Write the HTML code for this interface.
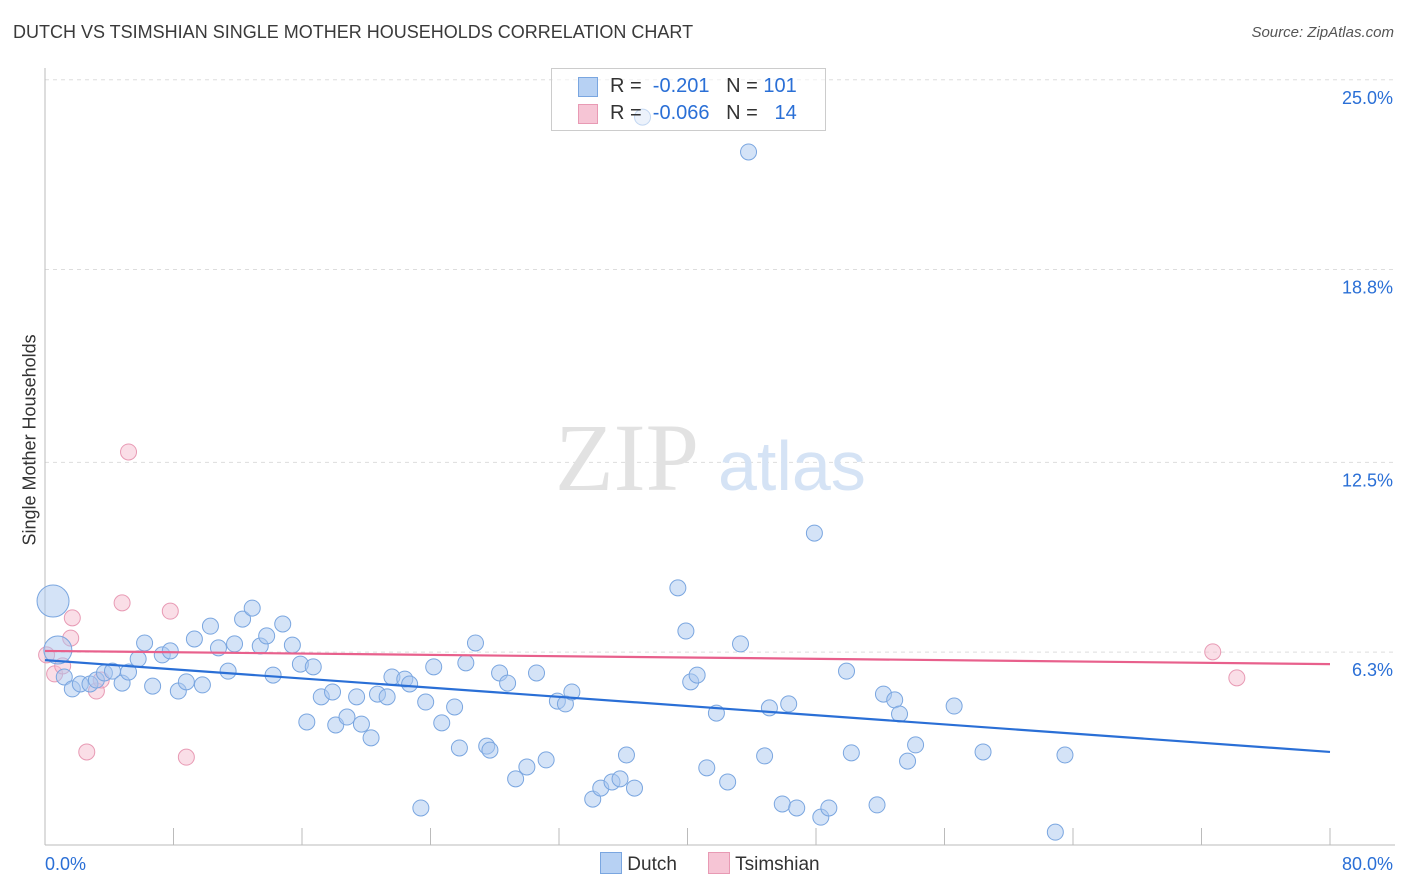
<!DOCTYPE html>
<html><head><meta charset="utf-8"><style>
body{margin:0;background:#fff;font-family:"Liberation Sans",sans-serif;}
#wrap{position:relative;width:1406px;height:892px;overflow:hidden;}
.t{position:absolute;white-space:nowrap;}
</style></head><body>
<div id="wrap">
<div class="t" style="left:13px;top:22px;font-size:18px;color:#3a3a3a;">DUTCH VS TSIMSHIAN SINGLE MOTHER HOUSEHOLDS CORRELATION CHART</div>
<div class="t" style="right:12px;top:24px;font-size:15px;color:#555;font-style:italic;">Source: ZipAtlas.com</div>
<div class="t" style="left:-60px;top:445px;transform:rotate(-90deg);font-size:18px;color:#333;width:180px;text-align:center;">Single Mother Households</div>
<svg id="plot" width="1406" height="892" style="position:absolute;left:0;top:0"></svg>
<div style="position:absolute;left:551px;top:68px;width:273px;height:61px;border:1px solid #ccc;background:rgba(255,255,255,0.55);font-size:20px;">
 <div style="position:absolute;left:26px;top:8px;width:18px;height:18px;background:#b7d1f3;border:1px solid #7aa6e0;"></div>
 <div class="t" style="left:58px;top:6px;color:#333;">R = &nbsp;<span style="color:#2a6fd6">-0.201</span> &nbsp;&nbsp;N = <span style="color:#2a6fd6">101</span></div>
 <div style="position:absolute;left:26px;top:35px;width:18px;height:18px;background:#f6c5d5;border:1px solid #e89ab4;"></div>
 <div class="t" style="left:58px;top:33px;color:#333;">R = &nbsp;<span style="color:#2a6fd6">-0.066</span> &nbsp;&nbsp;N = &nbsp;&nbsp;<span style="color:#2a6fd6">14</span></div>
</div>
<div style="position:absolute;left:600px;top:852px;font-size:19px;color:#333;">
 <span style="display:inline-block;width:20px;height:20px;background:#b7d1f3;border:1px solid #7aa6e0;vertical-align:-4px;"></span> Dutch
 <span style="display:inline-block;width:20px;height:20px;background:#f6c5d5;border:1px solid #e89ab4;vertical-align:-4px;margin-left:26px;"></span> Tsimshian
</div>
</div>
<script>
const yTicks=[25.0,18.8,12.5,6.3];
const yTickLabels=["25.0%","18.8%","12.5%","6.3%"];
const xTickLabels=["0.0%","80.0%"];
const dutchX=[0.5,0.8,1.2,1.7,2.2,2.8,3.2,3.7,4.2,4.8,5.2,5.8,6.2,6.7,7.3,7.8,8.3,8.8,9.3,9.8,10.3,10.8,11.4,11.8,12.3,12.9,13.4,13.8,14.2,14.8,15.4,15.9,16.3,16.7,17.2,17.9,18.1,18.8,19.4,19.7,20.3,20.7,21.3,21.6,22.4,22.7,23.4,23.7,24.2,24.7,25.5,25.8,26.2,26.8,27.5,27.7,28.3,28.8,29.3,30.0,30.6,31.2,31.9,32.4,32.8,34.1,34.6,35.3,35.8,36.2,36.7,37.2,39.4,39.9,40.2,40.6,41.2,41.8,42.5,43.3,43.8,44.8,45.1,45.9,46.3,46.8,47.9,48.3,48.8,49.9,50.2,51.8,52.2,52.9,53.2,53.7,54.2,56.6,58.4,62.9,63.5];
const dutchY=[7.97,6.37,5.49,5.10,5.26,5.26,5.39,5.62,5.68,5.29,5.65,6.08,6.60,5.19,6.21,6.34,5.03,5.33,6.73,5.23,7.15,6.44,5.68,6.57,7.38,7.74,6.50,6.83,5.55,7.22,6.53,5.91,4.02,5.82,4.84,5.00,3.92,4.18,4.84,3.95,3.50,4.93,4.84,5.49,5.42,5.26,1.21,4.67,5.82,3.99,4.51,3.17,5.95,6.60,3.23,3.10,5.62,5.29,2.16,2.55,5.62,2.78,4.70,4.61,5.00,1.50,1.86,2.06,2.16,2.94,1.86,23.78,8.40,6.99,5.33,5.55,2.52,4.31,2.06,6.57,22.64,2.91,4.48,1.34,4.61,1.21,10.19,0.91,1.21,5.68,3.01,1.31,4.93,4.74,4.28,2.74,3.27,4.54,3.04,0.42,2.94];
const tsimX=[0.1,0.6,1.1,1.6,1.7,2.6,3.2,3.5,4.8,5.2,7.8,8.8,72.7,74.2];
const tsimY=[6.21,5.59,5.85,6.76,7.42,3.04,5.03,5.39,7.91,12.84,7.64,2.87,6.31,5.46];
const dutchTrend=[6.04,3.04];
const tsimTrend=[6.34,5.91];
const X0=45,X1=1330,Y0=845,PXY=30.61;
const sx=v=>X0+(X1-X0)*v/80, sy=v=>Y0-v*PXY;
const svg=document.getElementById('plot');const NS='http://www.w3.org/2000/svg';
function mk(t,a){const e=document.createElementNS(NS,t);for(const k in a)e.setAttribute(k,a[k]);svg.appendChild(e);return e;}
yTicks.forEach((v,i)=>{
 const l=mk('line',{x1:X0,x2:1395,y1:sy(v),y2:sy(v),stroke:'#ddd','stroke-dasharray':'4,4'});
 
 
 const t=mk('text',{x:1393,y:sy(v)+24,'text-anchor':'end','font-size':18,fill:'#2a6fd6','font-family':'Liberation Sans'});
 t.textContent=yTickLabels[i];
 
 
});
const ax=mk('line',{x1:X0,x2:X0,y1:68,y2:Y0,stroke:'#bbb'});


const bx=mk('line',{x1:X0,x2:1395,y1:Y0,y2:Y0,stroke:'#bbb'});


for(let i=1;i<=10;i++){const x=X0+(X1-X0)*i/10;const tk=mk('line',{x1:x,x2:x,y1:828,y2:Y0,stroke:'#bbb'});
 
 }
[[xTickLabels[0],45,'start'],[xTickLabels[1],1393,'end']].forEach(([s,x,a])=>{const t=mk('text',{x:x,y:870,'text-anchor':a,'font-size':18,fill:'#2a6fd6','font-family':'Liberation Sans'});t.textContent=s;
 
 });
const w1=mk('text',{x:555,y:490,'font-size':96,fill:'#e2e2e2','font-family':'Liberation Serif'});w1.textContent='ZIP';


const w2=mk('text',{x:718,y:490,'font-size':70,fill:'#d5e3f5','font-family':'Liberation Sans'});w2.textContent='atlas';


tsimX.forEach((v,i)=>{const c=mk('circle',{cx:sx(v),cy:sy(tsimY[i]),r:8,fill:'rgba(246,190,208,0.5)',stroke:'#e89ab4','stroke-width':1});
 
 });
dutchX.forEach((v,i)=>{const r=i==0?16:(i==1?14:8);const c=mk('circle',{cx:sx(v),cy:sy(dutchY[i]),r:r,fill:'rgba(170,200,240,0.5)',stroke:'#7aa6e0','stroke-width':1});
 
 });
const tl1=mk('line',{x1:sx(0),x2:sx(80),y1:sy(dutchTrend[0]),y2:sy(dutchTrend[1]),stroke:'#2a6fd6','stroke-width':2.2});


const tl2=mk('line',{x1:sx(0),x2:sx(80),y1:sy(tsimTrend[0]),y2:sy(tsimTrend[1]),stroke:'#e8608c','stroke-width':2.2});


</script>
</body></html>
